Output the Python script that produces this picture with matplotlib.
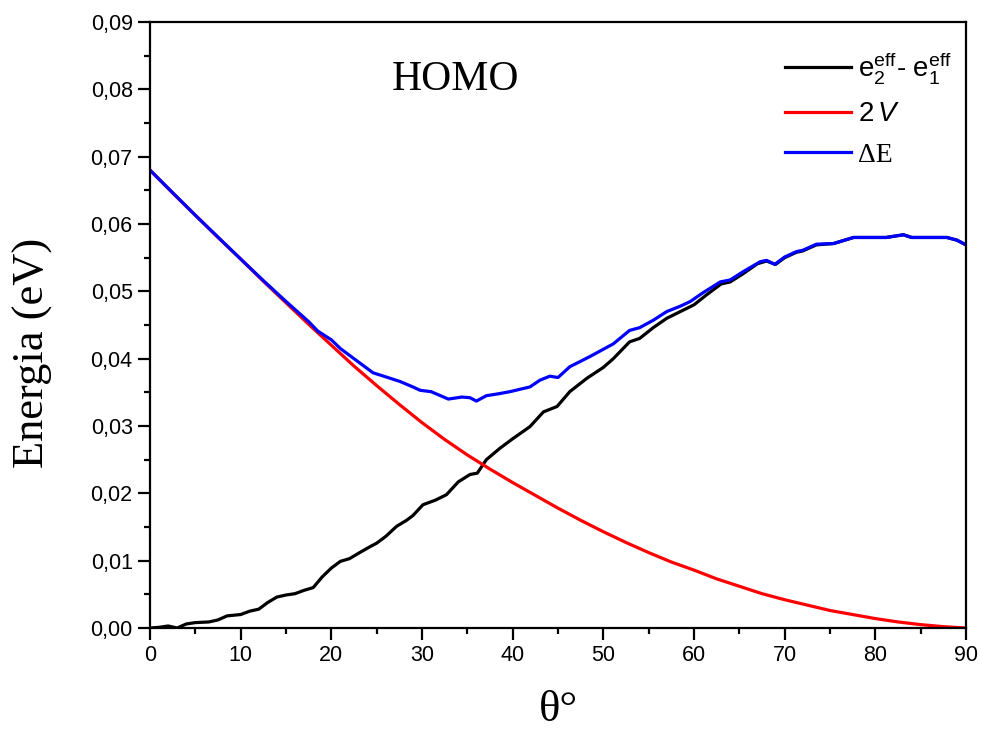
import matplotlib
matplotlib.use("Agg")
import matplotlib.pyplot as plt
from matplotlib.ticker import MultipleLocator, FuncFormatter

plt.rcParams['font.family'] = ['Liberation Sans', 'DejaVu Sans']
plt.rcParams['mathtext.fontset'] = 'custom'
plt.rcParams['mathtext.rm'] = 'Liberation Sans'
plt.rcParams['mathtext.it'] = 'Liberation Sans:italic'

# e2_eff - e1_eff
theta_d = [0, 1, 2, 3, 4, 5, 6.5, 7.5, 8.5, 10, 11, 12, 13, 14, 15, 16, 17, 18,
           19, 20, 21, 22, 23, 24.3, 25, 26, 27.2, 28.3, 29, 30.1, 31.5, 32.7,
           34, 35.3, 36.1, 37.1, 38.6, 40, 41.9, 43.4, 44.9, 46.3, 48.2, 50,
           51.1, 52.9, 54, 55.5, 57, 58.5, 60, 61.5, 63, 64, 65.4, 67, 68, 69,
           70, 71.3, 72, 73.5, 75.4, 77.6, 81.2, 83.1, 84, 87.9, 89, 90]
diff = [0.0, 0.0001, 0.0003, 0.0, 0.0006, 0.0008, 0.0009, 0.0012, 0.0018, 0.002,
        0.0025, 0.0028, 0.0038, 0.0046, 0.0049, 0.0051, 0.0056, 0.006, 0.0076,
        0.0089, 0.0099, 0.0103, 0.0111, 0.0121, 0.0126, 0.0136, 0.0151, 0.016,
        0.0167, 0.0183, 0.019, 0.0198, 0.0217, 0.0228, 0.023, 0.025, 0.0267,
        0.0281, 0.0299, 0.0321, 0.0329, 0.0351, 0.0371, 0.0387, 0.04, 0.0425,
        0.043, 0.0446, 0.046, 0.047, 0.048, 0.0496, 0.0511, 0.0514, 0.0526,
        0.0541, 0.0545, 0.054, 0.055, 0.0558, 0.056, 0.0569, 0.0571, 0.058,
        0.058, 0.0584, 0.058, 0.058, 0.0576, 0.0569]

# 2V
theta_v = [0, 2.5, 5, 7.5, 10, 12.5, 15, 17.5, 20, 22.5, 25, 27.5, 30, 32.5, 35,
           37.5, 40, 42.5, 45, 47.5, 50, 52.5, 55, 57.5, 60, 62.5, 65, 67.5, 70,
           72.5, 75, 77.5, 80, 82.5, 85, 87.5, 90]
two_v = [0.068, 0.0646, 0.0613, 0.058, 0.0548, 0.0515, 0.0483, 0.0451, 0.042,
         0.0389, 0.036, 0.0332, 0.0305, 0.028, 0.0257, 0.0236, 0.0216, 0.0197,
         0.0178, 0.016, 0.0143, 0.0127, 0.0112, 0.0098, 0.0086, 0.0073, 0.0062,
         0.0051, 0.0042, 0.0034, 0.0026, 0.002, 0.0014, 0.0009, 0.0005, 0.0002,
         0.0]

# delta E
theta_e = [0, 5, 10, 12.5, 15, 17.5, 18.5, 20, 21, 22.5, 24.6, 26, 27.6, 29,
           29.8, 31, 32.9, 34.4, 35.3, 36, 37.1, 38.5, 39.7, 41.9, 43, 44.1, 45,
           46.3, 48.5, 51.1, 52.9, 54, 55.5, 57, 58.5, 59.6, 61, 62.9, 64, 65.4,
           67.3, 68, 68.9, 70, 71.3, 72, 73.5, 75.4, 77.6, 81.2, 83.1, 84, 87.9,
           89, 90]
delta_e = [0.068, 0.0613, 0.0548, 0.0516, 0.0485, 0.0455, 0.0441, 0.0428, 0.0415,
           0.04, 0.0379, 0.0373, 0.0366, 0.0358, 0.0353, 0.0351, 0.034, 0.0343,
           0.0342, 0.0337, 0.0345, 0.0348, 0.0351, 0.0358, 0.0368, 0.0374,
           0.0372, 0.0388, 0.0403, 0.0422, 0.0442, 0.0446, 0.0457, 0.047, 0.0478,
           0.0485, 0.0498, 0.0514, 0.0517, 0.0529, 0.0544, 0.0546, 0.054,
           0.0551, 0.0559, 0.0561, 0.057, 0.0571, 0.058, 0.058, 0.0584, 0.058,
           0.058, 0.0576, 0.0569]

fig = plt.figure(figsize=(9.81, 7.31), dpi=100)
ax = fig.add_axes([0.1529, 0.1409, 0.8318, 0.829])

lw = 2.3
ax.plot(theta_d, diff, color='black', lw=lw,
        label=r'$\mathrm{e}_2^{\mathrm{eff}}$- $\mathrm{e}_1^{\mathrm{eff}}$')
ax.plot(theta_v, two_v, color='red', lw=lw, label=r'2$\,V$')
ax.plot(theta_e, delta_e, color='blue', lw=lw, label='ΔE')

ax.set_xlim(0, 90)
ax.set_ylim(0, 0.09)
ax.xaxis.set_major_locator(MultipleLocator(10))
ax.xaxis.set_minor_locator(MultipleLocator(5))
ax.yaxis.set_major_locator(MultipleLocator(0.01))
ax.yaxis.set_minor_locator(MultipleLocator(0.005))
ax.yaxis.set_major_formatter(FuncFormatter(lambda v, p: f"{v:.2f}".replace('.', ',')))

ax.tick_params(which='major', direction='out', length=8.5, width=1.6,
               labelsize=15.5, pad=4)
ax.tick_params(which='minor', direction='out', length=4.5, width=1.6)
for s in ax.spines.values():
    s.set_linewidth(1.6)

ax.set_xlabel('θ°', fontfamily='Liberation Serif', fontsize=32, labelpad=17)
ax.set_ylabel('Energia (eV)', fontfamily='Liberation Serif', fontsize=32)
ax.yaxis.set_label_coords(-0.119, 0.454)

ax.text(0.375, 0.905, 'HOMO', transform=ax.transAxes, ha='center', va='center',
        fontfamily='Liberation Serif', fontsize=30)

leg = ax.legend(loc='upper right', bbox_to_anchor=(0.997, 0.972), frameon=False,
                fontsize=20, handlelength=2.4, handletextpad=0.25,
                labelspacing=0.55, borderaxespad=0.0)
leg.get_texts()[2].set_fontfamily('Liberation Serif')

fig.savefig('out.png', dpi=100)
